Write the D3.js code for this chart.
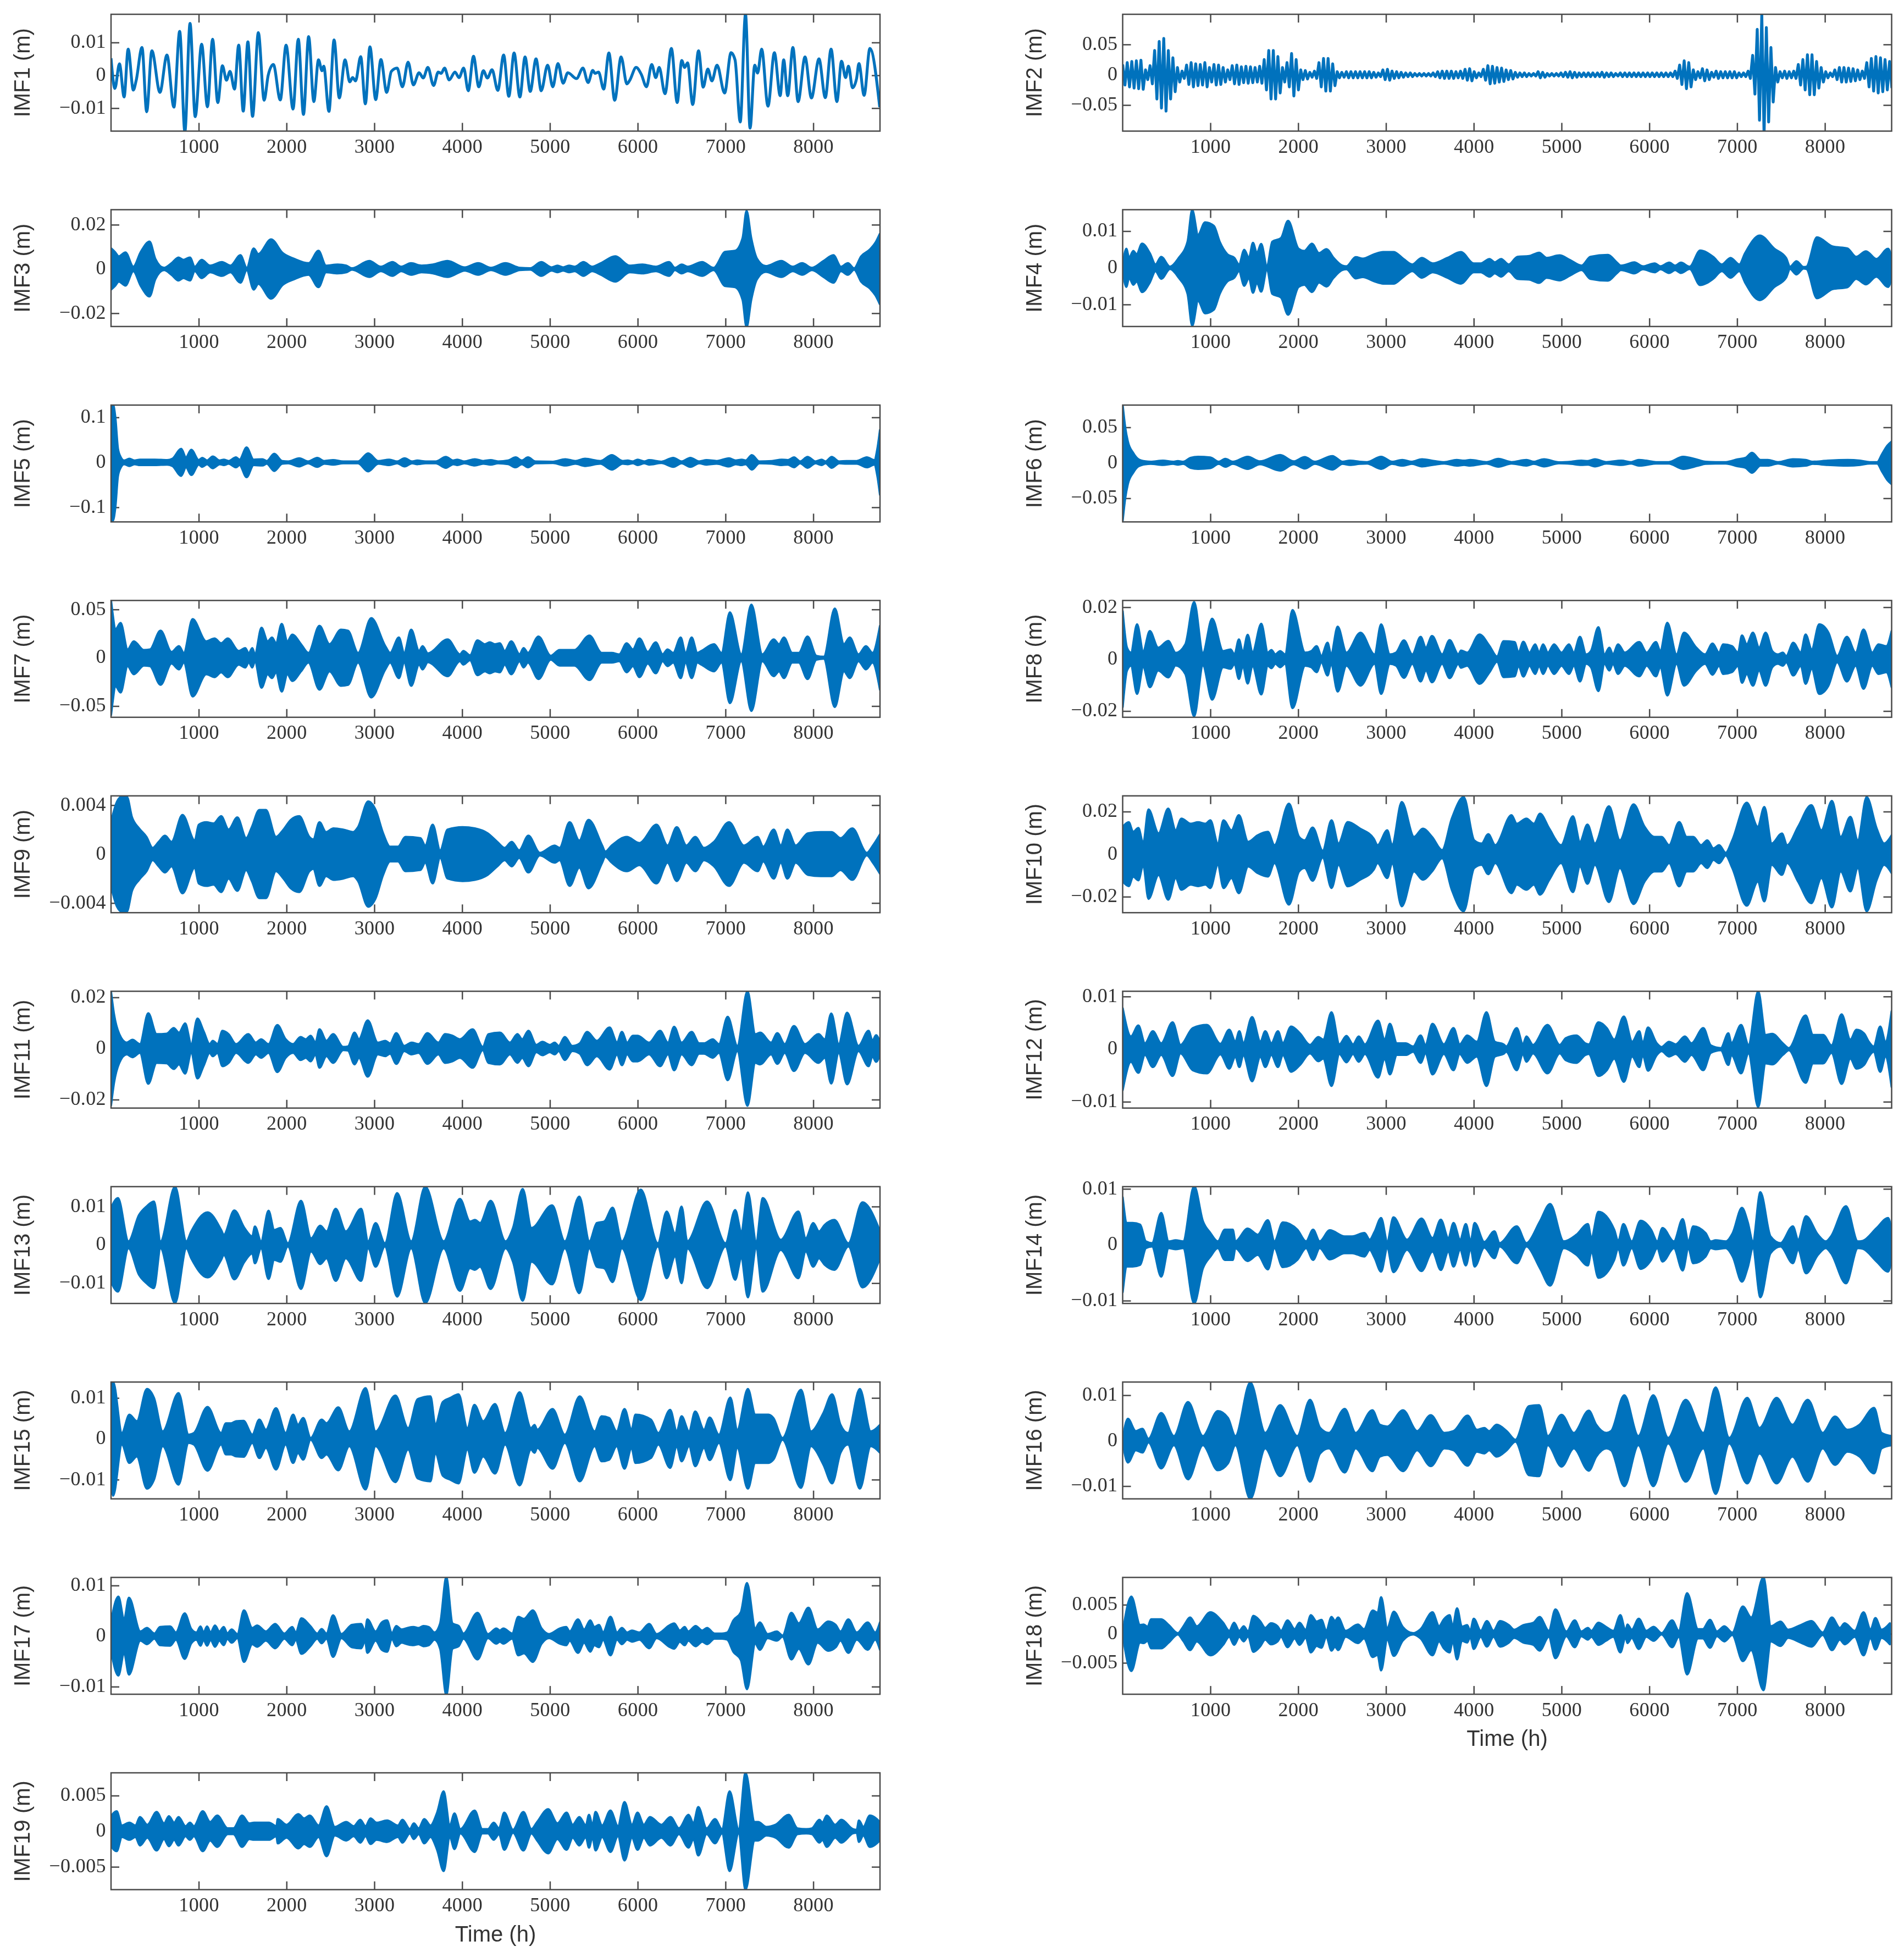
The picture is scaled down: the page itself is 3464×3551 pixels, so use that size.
<!DOCTYPE html>
<html>
<head>
<meta charset="utf-8">
<title>IMF components</title>
<script src="https://cdn.jsdelivr.net/npm/d3@7"></script>
<style>
    html, body { margin: 0; padding: 0; background: #fff; }
    svg { display: block; filter: blur(0.7px); }
</style>
</head>
<body>
<script>
//Panel Names, Y Limits (m) and the Labelled Y Tick
var imfNames = ["IMF1", "IMF2", "IMF3", "IMF4", "IMF5", "IMF6", "IMF7", "IMF8", "IMF9", "IMF10",
    "IMF11", "IMF12", "IMF13", "IMF14", "IMF15", "IMF16", "IMF17", "IMF18", "IMF19"];
var yLimits = [[-0.017, 0.0186], [-0.093, 0.0998], [-0.026, 0.0268], [-0.016, 0.01585], [-0.1324, 0.1274],
    [-0.0833, 0.0814], [-0.0616, 0.0593], [-0.0224, 0.0226], [-0.00479, 0.00476], [-0.0275, 0.0274],
    [-0.0233, 0.0224], [-0.0112, 0.011], [-0.0153, 0.0152], [-0.0105, 0.0104], [-0.0147, 0.0139],
    [-0.0128, 0.0129], [-0.0115, 0.0116], [-0.0104, 0.0097], [-0.0082, 0.0082]];
var yTickValues = [0.01, 0.05, 0.02, 0.01, 0.1, 0.05, 0.05, 0.02, 0.004, 0.02,
    0.02, 0.01, 0.01, 0.01, 0.01, 0.01, 0.01, 0.005, 0.005];
var xTickValues = [1000, 2000, 3000, 4000, 5000, 6000, 7000, 8000];

//IMF1 is Drawn as a Plain Line Through its Turning Points
var imf1Hours = [1, 45, 97, 150, 196, 255, 288, 354, 407, 466, 558, 638, 717, 783, 842, 901, 960, 1033, 1099, 1158,
    1217, 1270, 1316, 1356, 1408, 1455, 1507, 1560, 1613, 1679, 1745, 1791, 1850, 1929, 1995, 2074, 2134, 2193, 2252, 2311,
    2364, 2404, 2424, 2483, 2542, 2601, 2667, 2720, 2753, 2786, 2845, 2898, 2950, 3016, 3075, 3141, 3194, 3260, 3320, 3385,
    3445, 3510, 3557, 3610, 3675, 3728, 3761, 3800, 3853, 3919, 3965, 4018, 4070, 4130, 4190, 4242, 4288, 4341, 4407, 4473,
    4532, 4592, 4658, 4717, 4776, 4842, 4901, 4974, 5033, 5092, 5151, 5204, 5303, 5376, 5435, 5488, 5514, 5554, 5613, 5672,
    5738, 5811, 5877, 5910, 5982, 6041, 6100, 6160, 6206, 6245, 6311, 6384, 6450, 6502, 6535, 6568, 6627, 6693, 6746, 6799,
    6845, 6904, 6990, 7063, 7109, 7168, 7228, 7280, 7333, 7366, 7412, 7484, 7557, 7623, 7663, 7709, 7768, 7827, 7906, 7979,
    8065, 8137, 8203, 8269, 8322, 8368, 8401, 8447, 8493, 8520, 8579, 8645, 8757];
var imf1Values = [0.0052, -0.004, 0.0035, -0.0066, 0.008, -0.0045, -0.0015, 0.0085, -0.0111, 0.0075, -0.0052, 0.0062, -0.0097, 0.0134, -0.0172, 0.0158, -0.0126, 0.0095, -0.0096, 0.011,
    -0.0083, 0.0029, -0.0015, 0.0012, -0.0042, 0.0092, -0.0109, 0.0102, -0.0125, 0.013, -0.0076, 0, 0.0033, -0.0075, 0.0092, -0.0103, 0.011, -0.0119, 0.0118, -0.008,
    0.0047, 0.0014, 0.0028, -0.011, 0.0108, -0.0069, 0.0047, -0.002, -0.0007, -0.0017, 0.0057, -0.0087, 0.0087, -0.0074, 0.0048, -0.0052, 0.0012, 0.0022, -0.0035, 0.004,
    -0.0029, 0.0008, -0.0008, 0.0024, -0.0031, 0.001, 0.0006, 0.0022, -0.0014, 0.001, -0.0007, 0.0022, -0.0047, 0.0058, -0.0035, 0.0014, -0.0008, 0.0017, -0.0046, 0.0062,
    -0.0064, 0.0068, -0.0066, 0.0056, -0.0049, 0.005, -0.0047, 0.0031, -0.0035, 0.0036, -0.0024, 0.0008, -0.001, 0.0022, -0.0022, 0.0015, 0.0006, 0.001, -0.0042, 0.0068,
    -0.0076, 0.0056, -0.0026, -0.0015, 0.0024, 0.0003, -0.0035, 0.0033, -0.0007, 0.0024, -0.0056, 0.0082, -0.0083, 0.0045, 0.0024, 0.0038, -0.0089, 0.0075, -0.0036, 0.0019,
    -0.0017, 0.0031, -0.0054, 0.0069, 0.0047, -0.0142, 0.0186, -0.0161, 0.0031, 0.0007, 0.008, -0.0094, 0.0069, -0.0062, 0.0047, -0.0062, 0.0085, -0.008, 0.0056, -0.0069,
    0.005, -0.0068, 0.008, -0.008, 0.0043, -0.0007, 0.0028, -0.0038, -0.001, 0.0036, -0.0061, 0.0082, -0.0097];

//IMF2 has Visible Beats: One Peak Height per 52 h Oscillation
var imf2PeriodHours = 52;
var imf2Peaks = [0.017, 0.02, 0.022, 0.023, 0.024, 0.008, 0.015, 0.04, 0.055, 0.06, 0.04, 0.028, 0.012, 0.006, 0.016, 0.02, 0.018, 0.017, 0.02, 0.012,
    0.017, 0.016, 0.012, 0.008, 0.015, 0.016, 0.013, 0.014, 0.013, 0.012, 0.014, 0.025, 0.04, 0.04, 0.03, 0.012, 0.02, 0.035, 0.025, 0.008,
    0.007, 0.004, 0.006, 0.02, 0.027, 0.027, 0.018, 0.005, 0.004, 0.005, 0.005, 0.005, 0.005, 0.005, 0.005, 0.004, 0.003, 0.008, 0.009, 0.006,
    0.005, 0.004, 0.003, 0.003, 0.002, 0.002, 0.002, 0.002, 0.003, 0.005, 0.006, 0.006, 0.006, 0.005, 0.006, 0.009, 0.01, 0.005, 0.003, 0.009,
    0.015, 0.014, 0.012, 0.011, 0.008, 0.007, 0.004, 0.003, 0.003, 0.002, 0.002, 0.005, 0.004, 0.002, 0.002, 0.002, 0.003, 0.004, 0.005, 0.004,
    0.003, 0.003, 0.003, 0.003, 0.003, 0.004, 0.003, 0.003, 0.002, 0.003, 0.003, 0.003, 0.003, 0.003, 0.003, 0.003, 0.003, 0.003, 0.003, 0.003,
    0.003, 0.006, 0.016, 0.023, 0.02, 0.008, 0.005, 0.01, 0.008, 0.004, 0.006, 0.005, 0.005, 0.005, 0.005, 0.003, 0.003, 0.006, 0.032, 0.075,
    0.1, 0.078, 0.045, 0.012, 0.005, 0.006, 0.005, 0.006, 0.017, 0.025, 0.033, 0.033, 0.022, 0.012, 0.005, 0.003, 0.008, 0.012, 0.012, 0.011,
    0.01, 0.008, 0.006, 0.02, 0.027, 0.03, 0.028, 0.025, 0.022];

//The Other IMFs are Too Dense to Separate: [hour, envelope amplitude in m]
var imf3 = [[1,.0093],[45,.0077],[90,.0057],[165,.0075],[255,.001],[340,.0077],[440,.0124],[505,.0046],[605,.0005],[690,.0026],[770,.0052],[825,.0041],[900,.0052],[955,.001],[1033,.0041],[1130,.0015],[1264,.0031],[1362,.0015],[1475,.0062],[1547,.0005],[1626,.0093],[1679,.0067],[1824,.0134],[1956,.0072],[2087,.0046],[2252,.0026],[2364,.0082],[2450,.0015],[2582,.002],[2680,.0015],[2746,.0003],[2943,.0036],[3075,.001],[3207,.0031],[3306,.001],[3418,.0026],[3537,.0015],[3669,.002],[3834,.0036],[4031,.0007],[4183,.0026],[4328,.0005],[4493,.0026],[4658,.0005],[4776,.0003],[4901,.0031],[5020,.0007],[5086,.0015],[5151,.0007],[5217,.0015],[5283,.001],[5382,.0031],[5481,.001],[5580,.0026],[5745,.0057],[5910,.0015],[6055,.002],[6206,.001],[6358,.0031],[6424,.0005],[6502,.002],[6568,.001],[6733,.0031],[6865,.0005],[6997,.0077],[7109,.0082],[7195,.014],[7240,.0263],[7293,.014],[7359,.0046],[7458,.0013],[7636,.0036],[7768,.001],[7873,.0026],[7985,.0005],[8117,.0036],[8229,.0062],[8315,.001],[8394,.0026],[8466,.0003],[8545,.0057],[8645,.0088],[8710,.012],[8757,.0158]];
var imf4 = [[1,.0003],[42,.0052],[75,.0027],[122,.0046],[160,.0037],[222,.0066],[310,.004],[375,.0009],[440,.003],[540,.0003],[640,.0027],[740,.0071],[793,.0158],[860,.009],[940,.0124],[1040,.0114],[1106,.0071],[1193,.0037],[1273,.0027],[1326,.0009],[1386,.0049],[1439,.0027],[1485,.0068],[1530,.004],[1579,.0065],[1645,.0003],[1705,.0071],[1805,.0081],[1885,.0128],[2004,.0052],[2070,.0046],[2157,.0066],[2237,.004],[2323,.0051],[2403,.0027],[2503,.0006],[2550,.0004],[2656,.0029],[2736,.0025],[2869,.0037],[2968,.0043],[3088,.0043],[3200,.0024],[3300,.0009],[3407,.0027],[3533,.0012],[3700,.0027],[3853,.0043],[4000,.0012],[4080,.0012],[4180,.0024],[4240,.0015],[4312,.0024],[4398,.0009],[4498,.003],[4631,.0032],[4744,.0041],[4830,.0027],[4977,.0034],[5096,.0021],[5229,.0006],[5329,.003],[5528,.0035],[5628,.0015],[5675,.0006],[5741,.0009],[5828,.0015],[5928,.0004],[6061,.0012],[6127,.0004],[6227,.0014],[6294,.0006],[6360,.0014],[6460,.0003],[6579,.0047],[6726,.003],[6826,.0009],[6925,.0027],[7025,.0009],[7091,.004],[7258,.0088],[7424,.0052],[7557,.0027],[7603,.0003],[7676,.0018],[7756,.0002],[7790,.0003],[7909,.0083],[8089,.0058],[8255,.0053],[8355,.003],[8468,.0045],[8586,.0024],[8720,.0052],[8760,.0027]];
var imf5 = [[1,.12],[20,.13],[50,.1],[80,.03],[110,.012],[150,.004],[210,.008],[270,.004],[330,.006],[500,.006],[640,.005],[700,.008],[800,.03],[855,.011],[915,.028],[1000,.005],[1040,.01],[1095,.004],[1160,.013],[1240,.004],[1285,.006],[1340,.003],[1425,.011],[1465,.006],[1545,.033],[1625,.006],[1725,.007],[1775,.003],[1860,.019],[1950,.003],[2020,.002],[2145,.009],[2245,.002],[2350,.01],[2430,.003],[2530,.005],[2645,.002],[2815,.002],[2930,.02],[3045,.003],[3170,.006],[3260,.002],[3345,.009],[3430,.002],[3490,.004],[3585,.002],[3700,.002],[3815,.012],[3900,.004],[3945,.006],[4025,.002],[4145,.007],[4240,.003],[4325,.005],[4410,.002],[4525,.004],[4610,.011],[4680,.004],[4750,.011],[4835,.002],[5035,.0015],[5175,.007],[5290,.003],[5400,.008],[5575,.003],[5705,.016],[5830,.003],[5885,.004],[5945,.002],[6000,.006],[6075,.002],[6130,.005],[6270,.0015],[6405,.01],[6500,.002],[6600,.01],[6700,.002],[6785,.005],[6900,.003],[7040,.009],[7115,.004],[7185,.006],[7230,.004],[7300,.016],[7385,.002],[7530,.003],[7640,.006],[7710,.005],[7780,.011],[7850,.002],[7935,.012],[8025,.002],[8095,.006],[8140,.002],[8210,.012],[8295,.002],[8380,.003],[8495,.003],[8610,.011],[8695,.005],[8730,.03],[8760,.072]];
var imf6 = [[1,.0814],[30,.05],[60,.03],[120,.014],[180,.005],[260,.002],[320,.0015],[460,.003],[575,.0015],[630,.0025],[690,.0015],[775,.007],[860,.0085],[1000,.0075],[1095,.0015],[1170,.0055],[1255,.0015],[1425,.0085],[1565,.002],[1795,.011],[1950,.002],[2075,.008],[2190,.0015],[2390,.0095],[2505,.0015],[2590,.003],[2700,.0015],[2785,.001],[2945,.0085],[3070,.0015],[3185,.004],[3295,.0015],[3410,.005],[3550,.0025],[3665,.001],[3805,.004],[3890,.003],[3960,.004],[4145,.001],[4280,.0055],[4430,.001],[4600,.004],[4685,.0015],[4800,.005],[4970,.0007],[5110,.0015],[5225,.003],[5300,.0025],[5380,.005],[5510,.001],[5680,.003],[5795,.001],[5880,.004],[5965,.003],[6075,.001],[6220,.001],[6385,.0085],[6555,.004],[6640,.0015],[6755,.001],[6870,.001],[7010,.005],[7095,.007],[7170,.014],[7265,.004],[7350,.004],[7465,.001],[7635,.005],[7780,.004],[7860,.0015],[8030,.003],[8260,.004],[8400,.003],[8510,.001],[8595,.001],[8650,.012],[8710,.024],[8760,.03]];
var imf7 = [[1,.0593],[20,.045],[50,.029],[110,.036],[190,.0086],[260,.017],[375,.008],[445,.0086],[565,.028],[690,.006],[775,.012],[830,.005],[930,.04],[1085,.017],[1180,.02],[1255,.015],[1330,.02],[1455,.007],[1530,.01],[1570,.0045],[1610,.01],[1640,.0035],[1715,.031],[1785,.017],[1835,.021],[1880,.015],[1945,.035],[2010,.017],[2065,.024],[2165,.014],[2250,.005],[2375,.033],[2490,.014],[2620,.029],[2700,.028],[2815,.005],[2965,.041],[3125,.012],[3180,.005],[3280,.021],[3340,.005],[3420,.029],[3510,.007],[3550,.012],[3610,.0045],[3835,.019],[3975,.0035],[4015,.007],[4090,.0025],[4175,.018],[4260,.014],[4315,.016],[4375,.014],[4430,.015],[4485,.007],[4560,.017],[4655,.0035],[4700,.01],[4750,.005],[4870,.022],[5010,.002],[5110,.008],[5280,.008],[5450,.023],[5590,.005],[5705,.005],[5790,.0035],[5875,.015],[5945,.0086],[6020,.02],[6115,.006],[6205,.016],[6285,.0035],[6340,.0086],[6405,.005],[6490,.021],[6545,.0045],[6615,.021],[6680,.005],[6725,.007],[6870,.014],[6955,.005],[7050,.047],[7180,.0035],[7295,.055],[7420,.0035],[7550,.019],[7610,.014],[7665,.021],[7760,.005],[7835,.005],[7935,.022],[8035,.002],[8120,.001],[8245,.051],[8350,.014],[8415,.021],[8515,.0035],[8600,.012],[8675,.005],[8760,.033]];
var imf8 = [[1,.0185],[50,.0044],[95,.0025],[165,.0134],[235,.003],[310,.0108],[405,.0044],[520,.007],[605,.0024],[715,.0057],[815,.022],[915,.0024],[1020,.0156],[1145,.0031],[1230,.0037],[1275,.0018],[1325,.0076],[1370,.0025],[1425,.0094],[1480,.0025],[1580,.0136],[1655,.0025],[1695,.0035],[1740,.0018],[1795,.0031],[1850,.0018],[1935,.0189],[2080,.0025],[2150,.0031],[2210,.005],[2265,.0012],[2335,.0063],[2375,.0018],[2450,.0125],[2550,.0025],[2710,.0102],[2870,.0018],[2945,.0134],[3045,.0018],[3115,.0025],[3205,.0072],[3300,.0018],[3395,.0086],[3455,.0044],[3525,.0089],[3640,.0018],[3725,.0073],[3825,.0018],[3855,.0033],[3925,.0025],[4065,.0095],[4180,.005],[4265,.001],[4340,.0069],[4465,.0066],[4510,.0025],[4565,.0067],[4635,.0025],[4700,.0057],[4745,.0025],[4790,.0057],[4845,.0025],[4915,.0057],[5000,.0025],[5085,.0057],[5140,.0025],[5210,.0086],[5280,.0018],[5335,.0031],[5420,.0123],[5490,.0018],[5545,.0044],[5585,.0018],[5645,.0057],[5720,.0025],[5885,.0066],[5970,.0025],[6075,.0066],[6125,.0031],[6205,.014],[6310,.0018],[6395,.0102],[6535,.0044],[6635,.0018],[6720,.006],[6795,.0025],[6840,.0057],[6940,.005],[7010,.0025],[7055,.0091],[7110,.0057],[7180,.0102],[7250,.0044],[7325,.0102],[7400,.0031],[7465,.0018],[7520,.0025],[7560,.0012],[7640,.0063],[7725,.0025],[7780,.0095],[7850,.0037],[7935,.0134],[8040,.0102],[8140,.0012],[8250,.0086],[8350,.0025],[8440,.0114],[8540,.0025],[8610,.0057],[8700,.005],[8760,.0108]];
var imf9 = [[1,.0026],[70,.0043],[125,.0047],[180,.0047],[240,.003],[320,.0021],[405,.0014],[475,.0005],[545,.001],[615,.0015],[690,.001],[815,.0032],[955,.0011],[1000,.0024],[1085,.0026],[1170,.0025],[1255,.0031],[1340,.002],[1440,.003],[1540,.0013],[1605,.0022],[1690,.0036],[1765,.0036],[1880,.0014],[1965,.002],[2050,.0028],[2145,.0031],[2260,.0014],[2305,.0012],[2375,.0026],[2450,.0018],[2535,.0021],[2645,.002],[2760,.0018],[2815,.0022],[2930,.0043],[3015,.0036],[3100,.0017],[3180,.0006],[3270,.0006],[3355,.0014],[3525,.0013],[3580,.0007],[3665,.0024],[3750,.0003],[3835,.002],[4005,.0022],[4145,.0021],[4290,.0017],[4400,.001],[4485,.0005],[4565,.001],[4650,.0003],[4755,.0015],[4885,.0001],[5055,.0007],[5110,.0005],[5225,.0026],[5335,.0011],[5440,.0028],[5595,.0007],[5630,.0002],[5705,.0007],[5875,.0014],[6020,.0009],[6215,.0024],[6340,.0007],[6445,.0022],[6555,.0007],[6655,.0014],[6755,.0005],[6870,.001],[7040,.0026],[7210,.0007],[7365,.0014],[7430,.0006],[7550,.002],[7630,.0007],[7705,.002],[7800,.0007],[7940,.0017],[8085,.0018],[8210,.0018],[8310,.0013],[8445,.0021],[8610,.0001],[8680,.0007],[8760,.0016]];
var imf10 = [[1,.0128],[70,.015],[120,.0105],[180,.0123],[235,.005],[295,.021],[410,.0098],[520,.0214],[605,.0112],[670,.0167],[775,.0143],[860,.015],[945,.0143],[1000,.0159],[1085,.005],[1150,.0159],[1240,.0112],[1325,.0183],[1430,.0058],[1540,.0089],[1655,.0105],[1730,.0042],[1895,.0237],[2010,.0081],[2075,.0065],[2165,.0125],[2280,.0016],[2380,.0159],[2460,.005],[2565,.0151],[2705,.012],[2860,.0073],[2905,.0042],[3015,.0112],[3070,.0042],[3180,.0245],[3320,.0081],[3420,.012],[3525,.0081],[3640,.0019],[3750,.0167],[3885,.0268],[4005,.0065],[4090,.005],[4165,.0094],[4245,.0042],[4430,.0183],[4490,.0143],[4600,.0167],[4685,.0143],[4755,.019],[4860,.012],[4995,.0042],[5130,.0178],[5210,.0058],[5295,.0139],[5380,.005],[5540,.0225],[5665,.0065],[5820,.0234],[5945,.0129],[6060,.0081],[6140,.0081],[6225,.0042],[6340,.0151],[6425,.0081],[6500,.0081],[6590,.0042],[6660,.0065],[6730,.0027],[6795,.0042],[6870,.0006],[6945,.0065],[7110,.0242],[7235,.0129],[7310,.0222],[7395,.005],[7510,.0097],[7570,.0042],[7695,.0129],[7845,.023],[7960,.0112],[8080,.025],[8180,.0081],[8290,.0175],[8375,.0065],[8475,.0268],[8590,.012],[8675,.005],[8760,.0089]];
var imf11 = [[1,.0222],[35,.0134],[95,.0056],[180,.0023],[245,.0034],[330,.0017],[425,.0138],[520,.0056],[635,.0058],[715,.008],[775,.0062],[845,.0098],[915,.0017],[985,.0117],[1055,.0068],[1125,.0017],[1160,.003],[1215,.0017],[1270,.0069],[1340,.0056],[1425,.0017],[1565,.0056],[1650,.0023],[1710,.0036],[1795,.0017],[1895,.0092],[1990,.0036],[2075,.0017],[2160,.0045],[2220,.0036],[2275,.005],[2330,.0023],[2375,.0075],[2455,.003],[2530,.0056],[2645,.0006],[2700,.0008],[2775,.0062],[2825,.0036],[2925,.011],[3040,.0023],[3125,.003],[3180,.002],[3250,.006],[3340,.001],[3425,.0023],[3505,.0017],[3605,.006],[3730,.0023],[3805,.0056],[3890,.005],[3975,.0036],[4120,.0075],[4235,.0006],[4300,.0056],[4430,.0062],[4545,.0023],[4630,.0056],[4685,.0036],[4755,.0069],[4845,.0014],[4915,.0026],[5000,.0014],[5055,.0023],[5100,.001],[5170,.0045],[5255,.001],[5340,.002],[5425,.0065],[5535,.003],[5680,.0082],[5765,.0023],[5820,.0065],[5880,.0023],[5945,.005],[6000,.005],[6130,.0023],[6255,.0069],[6345,.0023],[6415,.0085],[6500,.0023],[6615,.0065],[6700,.002],[6755,.002],[6855,.0036],[6925,.0017],[7025,.0124],[7135,.001],[7250,.0224],[7340,.0056],[7395,.0062],[7520,.0023],[7590,.006],[7675,.0017],[7780,.0088],[7905,.0017],[8060,.0056],[8130,.0036],[8205,.0137],[8290,.0017],[8385,.014],[8515,.001],[8630,.0069],[8675,.003],[8715,.0052],[8760,.0023]];
var imf12 = [[1,.0078],[95,.0024],[180,.0045],[255,.0011],[345,.0034],[440,.0011],[570,.0051],[660,.0008],[800,.004],[960,.0046],[1115,.001],[1215,.0037],[1285,.0014],[1330,.0034],[1375,.0011],[1475,.0061],[1570,.0014],[1625,.0034],[1695,.0011],[1770,.0034],[1825,.0011],[1920,.0043],[2020,.003],[2135,.0008],[2230,.0023],[2285,.0018],[2380,.007],[2470,.0009],[2550,.0025],[2625,.0009],[2690,.0024],[2760,.0009],[2910,.0054],[2985,.0018],[3045,.0048],[3125,.0011],[3225,.0011],[3310,.0005],[3395,.0026],[3450,.0008],[3530,.0048],[3660,.0009],[3770,.004],[3840,.0009],[3925,.0026],[4035,.0014],[4145,.007],[4240,.0014],[4340,.0009],[4370,.0005],[4490,.004],[4560,.0009],[4600,.0024],[4675,.0008],[4840,.0046],[4980,.0008],[5050,.0021],[5170,.0026],[5270,.0011],[5310,.0009],[5420,.0051],[5515,.004],[5600,.0018],[5710,.0062],[5805,.0014],[5885,.0034],[5925,.0011],[5985,.0041],[6085,.0011],[6140,.0004],[6225,.0014],[6300,.0009],[6405,.0024],[6480,.0011],[6615,.004],[6700,.0007],[6815,.0002],[6900,.003],[6935,.0011],[7045,.0046],[7130,.0008],[7240,.011],[7325,.0027],[7400,.0029],[7520,.0011],[7590,.0002],[7780,.0064],[7865,.0027],[7980,.0027],[8075,.0007],[8190,.0066],[8290,.0018],[8360,.0037],[8445,.0030],[8500,.0014],[8555,.0005],[8630,.0043],[8690,.0014],[8760,.0072]];
var imf13 = [[1,.0096],[80,.0122],[200,.0009],[320,.0078],[405,.0100],[490,.0113],[565,.0009],[730,.0152],[860,.0009],[915,.0035],[1100,.0085],[1255,.0039],[1285,.0026],[1405,.009],[1520,.0044],[1610,.0022],[1640,.0048],[1710,.0009],[1795,.0089],[1860,.0039],[1930,.0044],[2015,.0004],[2165,.0115],[2280,.0017],[2385,.005],[2455,.0035],[2560,.0094],[2675,.0035],[2850,.0094],[2930,.0009],[3015,.0057],[3120,.0004],[3260,.0135],[3420,.0009],[3580,.0152],[3790,.0009],[3975,.012],[4090,.0061],[4145,.0065],[4205,.0057],[4325,.0115],[4495,.0009],[4580,.0044],[4690,.0146],[4790,.0044],[5025,.0103],[5170,.0009],[5335,.0126],[5450,.0009],[5535,.0057],[5620,.0061],[5715,.0097],[5820,.0009],[6035,.0144],[6230,.0004],[6330,.0087],[6425,.003],[6500,.01],[6565,.0009],[6790,.0113],[7000,.0004],[7110,.0091],[7180,.0035],[7255,.0137],[7350,.0009],[7425,.0122],[7630,.0013],[7830,.0087],[7915,.0017],[8000,.0057],[8065,.0035],[8130,.0052],[8240,.0065],[8400,.0004],[8560,.0111],[8760,.0035]];
var imf14 = [[1,.0085],[50,.0039],[115,.0039],[200,.0036],[265,.0006],[335,.0003],[440,.0057],[525,.0006],[605,.0008],[690,.0006],[815,.0105],[915,.0042],[1000,.0021],[1085,.0006],[1165,.0027],[1255,.0027],[1285,.0006],[1425,.0029],[1540,.0018],[1655,.0044],[1730,.0006],[1825,.004],[1990,.0027],[2090,.0006],[2170,.0027],[2245,.0006],[2360,.0026],[2530,.0015],[2615,.0015],[2755,.0021],[2815,.0009],[2870,.0023],[2945,.0048],[3015,.0006],[3085,.0049],[3240,.0009],[3405,.0047],[3530,.0012],[3625,.0045],[3710,.0012],[3770,.0039],[3845,.0009],[3910,.0037],[3965,.0006],[4010,.0039],[4120,.0005],[4235,.0024],[4295,.0003],[4490,.0033],[4600,.0003],[4755,.0042],[4870,.0073],[5025,.0006],[5170,.0018],[5300,.0037],[5340,.0012],[5420,.0059],[5600,.0027],[5645,.0006],[5705,.0037],[5800,.0006],[5900,.0043],[6020,.0027],[6090,.0006],[6150,.003],[6280,.0006],[6380,.0046],[6445,.0006],[6500,.0033],[6640,.0021],[6700,.0006],[6755,.0008],[6870,.0006],[6950,.0021],[7055,.0066],[7120,.0041],[7180,.0006],[7265,.0094],[7380,.0015],[7495,.0003],[7635,.0033],[7695,.0009],[7785,.0051],[7920,.0018],[8010,.0006],[8070,.0015],[8240,.0069],[8375,.0006],[8430,.0007],[8590,.003],[8720,.0048],[8760,.0024]];
var imf15 = [[1,.0088],[25,.0139],[125,.0014],[210,.0059],[295,.0043],[410,.0122],[490,.01],[590,.0018],[770,.0112],[885,.001],[945,.0014],[1100,.0078],[1255,.0014],[1310,.0038],[1370,.0038],[1425,.0043],[1510,.0044],[1610,.001],[1690,.0047],[1765,.0022],[1880,.0075],[1990,.0014],[2075,.0059],[2130,.0034],[2190,.0051],[2275,.0002],[2400,.0047],[2455,.0038],[2590,.0077],[2715,.0018],[2900,.0124],[3015,.0018],[3240,.0106],[3385,.0026],[3495,.0097],[3640,.0104],[3695,.0034],[3780,.009],[3865,.01],[3960,.0109],[4060,.0026],[4140,.0083],[4240,.0043],[4375,.0085],[4490,.0014],[4655,.0114],[4785,.0026],[4825,.0034],[4855,.0022],[5030,.0073],[5170,.001],[5340,.0104],[5510,.0018],[5590,.0055],[5675,.0051],[5760,.0018],[5850,.0073],[5930,.0022],[5975,.0059],[6150,.0047],[6235,.0014],[6370,.0071],[6445,.0018],[6500,.0055],[6585,.0018],[6655,.0067],[6755,.0022],[6820,.0052],[6925,.001],[7055,.0101],[7135,.0022],[7255,.0122],[7340,.0059],[7490,.0059],[7545,.0051],[7650,.0002],[7860,.012],[7975,.0018],[8115,.0063],[8215,.0109],[8310,.0034],[8395,.0014],[8530,.0122],[8655,.0018],[8760,.0034]];
var imf16 = [[1,.0002],[60,.0048],[150,.0021],[225,.0026],[295,.0004],[440,.0061],[585,.001],[745,.0085],[915,.001],[1085,.0065],[1200,.005],[1285,.001],[1455,.0128],[1625,.0017],[1795,.0078],[1990,.001],[2135,.009],[2250,.0028],[2350,.0017],[2530,.007],[2655,.0017],[2845,.0067],[2930,.0035],[3015,.0031],[3195,.0067],[3355,.0021],[3510,.0056],[3665,.0017],[3770,.0021],[3930,.0055],[4035,.0024],[4120,.0028],[4175,.0021],[4260,.0035],[4375,.0021],[4475,.0002],[4630,.0076],[4745,.0078],[4845,.001],[5000,.0057],[5140,.0017],[5310,.0066],[5395,.0035],[5510,.0017],[5565,.0021],[5715,.01],[5875,.001],[6045,.01],[6215,.0006],[6415,.009],[6615,.0017],[6755,.0117],[6910,.0006],[7115,.0094],[7255,.0028],[7450,.0094],[7630,.0035],[7805,.009],[7975,.0017],[8115,.0053],[8255,.0024],[8395,.0035],[8560,.0072],[8645,.0017],[8760,.001]];
var imf17 = [[1,.0029],[85,.0078],[150,.0033],[205,.0076],[335,.0009],[410,.0016],[495,.0005],[560,.0018],[675,.0019],[740,.0007],[840,.0045],[915,.0014],[975,.0007],[1020,.0019],[1055,.0007],[1095,.0019],[1135,.0007],[1185,.0021],[1235,.0009],[1285,.0018],[1325,.0005],[1375,.0013],[1440,.0004],[1515,.0051],[1610,.0016],[1665,.0021],[1765,.0009],[1870,.0024],[1975,.0005],[2065,.0018],[2105,.0007],[2170,.0035],[2270,.002],[2350,.0005],[2400,.0014],[2455,.0005],[2530,.0041],[2625,.0004],[2745,.0022],[2850,.0024],[2895,.0009],[2920,.0033],[3015,.0009],[3085,.0027],[3145,.0031],[3200,.0005],[3250,.002],[3310,.0013],[3375,.0016],[3445,.0018],[3505,.0016],[3560,.002],[3620,.0018],[3685,.0007],[3750,.0025],[3820,.0116],[3890,.0025],[3960,.002],[4015,.0005],[4175,.0046],[4295,.0004],[4390,.0015],[4430,.0011],[4470,.0015],[4570,.0005],[4640,.0038],[4705,.0034],[4805,.0051],[4905,.0015],[4990,.0004],[5115,.0015],[5185,.0018],[5225,.0009],[5320,.0033],[5390,.0013],[5460,.0031],[5505,.0018],[5560,.0022],[5605,.0007],[5690,.0038],[5765,.0007],[5820,.0016],[5880,.0007],[5935,.0011],[6020,.0007],[6130,.0024],[6215,.0004],[6370,.0022],[6415,.0025],[6480,.0011],[6535,.0018],[6575,.0009],[6660,.002],[6735,.0011],[6790,.0016],[6875,.0005],[6960,.0005],[7020,.0007],[7090,.0031],[7175,.0047],[7245,.0105],[7340,.0015],[7390,.0027],[7480,.0004],[7585,.0009],[7650,.0001],[7750,.0046],[7835,.0025],[7945,.0056],[8050,.0013],[8170,.0029],[8255,.0022],[8310,.0009],[8400,.0033],[8495,.0007],[8620,.0027],[8705,.0007],[8760,.0027]];
var imf18 = [[1,.0001],[100,.0064],[200,.0015],[240,.0016],[285,.0012],[325,.0025],[440,.0025],[525,.0015],[630,.0001],[690,.0012],[770,.0028],[845,.0013],[1000,.0037],[1145,.0019],[1215,.0005],[1270,.0019],[1330,.0005],[1380,.0013],[1430,.0004],[1490,.0031],[1565,.0022],[1625,.001],[1690,.0018],[1765,.0013],[1805,.0005],[1880,.0023],[1960,.0008],[2015,.0019],[2085,.0007],[2145,.0032],[2210,.0021],[2265,.0024],[2320,.0005],[2380,.0029],[2420,.0022],[2455,.0028],[2540,.0005],[2680,.0016],[2750,.0008],[2850,.004],[2905,.0036],[2945,.0063],[3015,.001],[3090,.0038],[3190,.0012],[3310,.0001],[3395,.0008],[3530,.0037],[3605,.0013],[3660,.0025],[3725,.0032],[3760,.0012],[3810,.0044],[3865,.0012],[3925,.0015],[3960,.0005],[4000,.0026],[4080,.0005],[4150,.0022],[4225,.0005],[4300,.0022],[4400,.0015],[4460,.0007],[4565,.0015],[4680,.0019],[4750,.0029],[4855,.0005],[4930,.0042],[5055,.0004],[5150,.0023],[5225,.0004],[5300,.001],[5340,.0005],[5420,.0019],[5505,.0012],[5590,.0005],[5670,.0032],[5730,.0005],[5750,.0016],[5800,.0007],[5880,.0026],[5965,.0005],[6050,.0012],[6140,.0001],[6260,.0023],[6335,.0005],[6430,.007],[6555,.0008],[6610,.0008],[6690,.0024],[6770,.0004],[6855,.0013],[6945,.0002],[7065,.0047],[7160,.0028],[7300,.0097],[7385,.0013],[7495,.0021],[7580,.0007],[7725,.0015],[7845,.0022],[7975,.0002],[8080,.0028],[8170,.001],[8225,.0018],[8340,.0005],[8440,.0037],[8520,.0007],[8575,.0027],[8645,.0007],[8740,.0018]];
var imf19 = [[1,.0021],[65,.0028],[125,.0008],[210,.0012],[280,.0008],[330,.002],[415,.0009],[520,.0027],[605,.0011],[660,.0021],[720,.0012],[770,.002],[850,.0007],[900,.0012],[945,.0007],[1046,.0028],[1130,.0013],[1210,.0022],[1330,.0004],[1395,.0004],[1494,.0022],[1575,.0011],[1630,.0012],[1800,.0012],[1885,.0007],[1900,.0017],[2000,.0009],[2135,.0024],[2200,.0018],[2265,.0022],[2365,.0008],[2456,.0035],[2550,.0006],[2680,.0013],[2765,.0007],[2840,.0016],[2900,.0007],[2957,.0018],[3025,.0012],[3145,.0015],[3270,.0008],[3320,.0016],[3405,.0003],[3450,.0011],[3505,.0004],[3570,.0017],[3640,.0008],[3715,.0026],[3790,.0056],[3860,.0008],[3913,.0025],[3980,.0003],[4143,.0029],[4230,.0003],[4295,.0003],[4360,.0012],[4420,.0004],[4480,.0026],[4580,.0002],[4698,.0027],[4790,.0003],[4855,.0013],[4980,.0031],[5085,.0011],[5190,.0026],[5260,.0009],[5335,.002],[5410,.0008],[5445,.0023],[5485,.0008],[5520,.0027],[5595,.0008],[5690,.0029],[5775,.0007],[5850,.0041],[5935,.0009],[5998,.0026],[6070,.0009],[6140,.002],[6270,.0009],[6373,.002],[6470,.0004],[6580,.0023],[6635,.0011],[6690,.0034],[6785,.0004],[6880,.0017],[6960,.0003],[7047,.0056],[7150,.0003],[7228,.0082],[7333,.0013],[7372,.0013],[7465,.0006],[7570,.0009],[7720,.0023],[7820,.0004],[7920,.0003],[7985,.0004],[8070,.0016],[8105,.0012],[8153,.0022],[8250,.0009],[8320,.0016],[8450,.0003],[8495,.0002],[8520,.0015],[8570,.0006],[8645,.0022],[8757,.0013]];

var envelopes = {IMF3: imf3, IMF4: imf4, IMF5: imf5, IMF6: imf6, IMF7: imf7, IMF8: imf8, IMF9: imf9, IMF10: imf10,
    IMF11: imf11, IMF12: imf12, IMF13: imf13, IMF14: imf14, IMF15: imf15, IMF16: imf16, IMF17: imf17, IMF18: imf18, IMF19: imf19};

//Define the SVG Height & Width and the Panel Grid
var svgWidth = 3464;
var svgHeight = 3551;
var columnLeft = [202, 2042.5];
var panelWidth = 1399;
var panelHeight = 212.5;
var firstTop = 26;
var rowStep = 355.45;
var ylabelX = [54, 1895];
var lineColor = "#0072BD";
var axisColor = "#4a4a4a";
var textColor = "#333333";
var serif = "'Liberation Serif', 'DejaVu Serif', serif";
var sans = "'Liberation Sans', Arial, sans-serif";

//Create the SVG Element
var svg = d3.select("body")
    .append("svg")
    .attr("width", svgWidth)
    .attr("height", svgHeight)
    .attr("viewBox", `0 0 ${svgWidth} ${svgHeight}`);

svg.append("rect")
    .attr("width", svgWidth)
    .attr("height", svgHeight)
    .attr("fill", "#fff");

var xScale = d3.scaleLinear().domain([1, 8760]).range([0, panelWidth]);

function yLabel(d) {
    if (d === 0) return "0";
    return String(d).replace("-", "\u2212");
}

function styleAxis(g) {
    g.select(".domain").remove();
    g.selectAll("line").attr("stroke", axisColor).attr("stroke-width", 2.5);
    g.selectAll("text")
        .attr("fill", textColor)
        .style("font-family", serif)
        .style("font-size", "36px")
        .style("letter-spacing", "0.4px");
}

imfNames.forEach(function(name, i) {
    var column = i % 2;
    var row = Math.floor(i / 2);
    var top = firstTop + row * rowStep;
    var left = columnLeft[column];
    var yScale = d3.scaleLinear().domain(yLimits[i]).range([panelHeight, 0]);
    var yTicks = [-yTickValues[i], 0, yTickValues[i]];

    var group = svg.append("g")
        .attr("class", "panel")
        .attr("transform", `translate(${left}, ${top})`);

    group.append("clipPath")
        .attr("id", `clip${i}`)
        .append("rect")
        .attr("width", panelWidth)
        .attr("height", panelHeight);

    //Axes on All Four Sides with Inward Ticks, as in a Boxed Plot
    group.append("g")
        .attr("transform", `translate(0, ${panelHeight})`)
        .call(d3.axisBottom(xScale).tickValues(xTickValues).tickFormat(d3.format("d")).tickSizeInner(-15).tickSizeOuter(0).tickPadding(14))
        .call(styleAxis);
    group.append("g")
        .call(d3.axisTop(xScale).tickValues(xTickValues).tickFormat("").tickSizeInner(-15).tickSizeOuter(0))
        .call(styleAxis);
    group.append("g")
        .call(d3.axisLeft(yScale).tickValues(yTicks).tickFormat(yLabel).tickSizeInner(-15).tickSizeOuter(0).tickPadding(9))
        .call(styleAxis)
        .call(function(g) { g.selectAll("text").attr("dy", "0.26em"); });
    group.append("g")
        .attr("transform", `translate(${panelWidth}, 0)`)
        .call(d3.axisRight(yScale).tickValues(yTicks).tickFormat("").tickSizeInner(-15).tickSizeOuter(0))
        .call(styleAxis);

    var plot = group.append("g").attr("clip-path", `url(#clip${i})`);

    if (name === "IMF1") {
        var line = d3.line()
            .x(function(d, k) { return xScale(imf1Hours[k]); })
            .y(function(d) { return yScale(d); })
            .curve(d3.curveMonotoneX);
        plot.append("path")
            .attr("d", line(imf1Values))
            .attr("fill", "none")
            .attr("stroke", lineColor)
            .attr("stroke-width", 5.2);
    } else if (name === "IMF2") {
        //Each Peak Swings Up then Down Within its Own Period
        var swings = [];
        imf2Peaks.forEach(function(peak, k) {
            swings.push({hour: 1 + k * imf2PeriodHours, value: peak});
            swings.push({hour: 1 + (k + 0.5) * imf2PeriodHours, value: -peak});
        });
        var zigzag = d3.line()
            .x(function(d) { return xScale(d.hour); })
            .y(function(d) { return yScale(d.value); });
        plot.append("path")
            .attr("d", zigzag(swings))
            .attr("fill", "none")
            .attr("stroke", lineColor)
            .attr("stroke-width", 5.2)
            .attr("stroke-linejoin", "round");
    } else {
        var area = d3.area()
            .x(function(d) { return xScale(d[0]); })
            .y0(function(d) { return yScale(-d[1]); })
            .y1(function(d) { return yScale(d[1]); })
            .curve(d3.curveMonotoneX);
        plot.append("path")
            .attr("d", area(envelopes[name]))
            .attr("fill", lineColor)
            .attr("stroke", lineColor)
            .attr("stroke-width", 4)
            .attr("stroke-linejoin", "round");
    }

    //The Box Sits on Top of the Data
    group.append("rect")
        .attr("width", panelWidth)
        .attr("height", panelHeight)
        .attr("fill", "none")
        .attr("stroke", axisColor)
        .attr("stroke-width", 2.5);

    //Append Axis Titles
    svg.append("text")
        .attr("transform", `translate(${ylabelX[column]}, ${top + panelHeight / 2}) rotate(-90)`)
        .attr("text-anchor", "middle")
        .attr("fill", textColor)
        .style("font-family", sans)
        .style("font-size", "40px")
        .text(`${name} (m)`);

    if (name === "IMF18" || name === "IMF19") {
        svg.append("text")
            .attr("x", left + panelWidth / 2)
            .attr("y", top + panelHeight + 94)
            .attr("text-anchor", "middle")
            .attr("fill", textColor)
            .style("font-family", sans)
            .style("font-size", "40px")
            .text("Time (h)");
    }
});
</script>
</body>
</html>
